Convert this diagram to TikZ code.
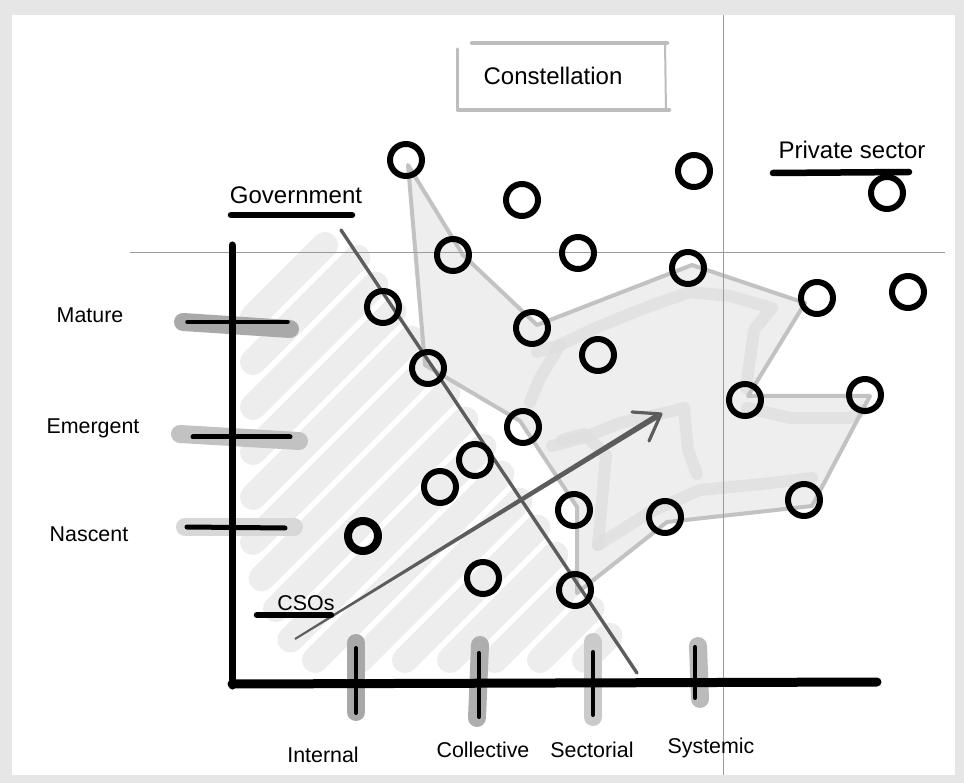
\documentclass[tikz,border=0pt]{standalone}
\usepackage{fontspec}
\setmainfont{Liberation Sans}
\usetikzlibrary{calc}
\definecolor{framegray}{HTML}{E6E6E6}
\definecolor{hatchgray}{HTML}{EDEDED}
\definecolor{polyfill}{HTML}{EEEEEE}
\definecolor{polyline}{HTML}{C2C2C2}
\definecolor{blotgray}{HTML}{DEDEDE}
\definecolor{guidegray}{HTML}{9A9A9A}
\definecolor{strokegray}{HTML}{5C5C5C}
\definecolor{boxgray}{HTML}{BDBDBD}
\begin{document}
\begin{tikzpicture}[x=1pt,y=-1pt,
  lbl/.style={font=\fontsize{21.4}{25}\selectfont, anchor=base, inner sep=0pt},
  biglbl/.style={font=\fontsize{24}{28}\selectfont, anchor=base, inner sep=0pt},
  hatchstroke/.style={line width=26pt, hatchgray, line cap=round},
  blot/.style={line width=12pt, blotgray, line cap=round, line join=round, opacity=0.75},
  hull/.style={line width=4pt, polyline, line cap=round, line join=round},
  guide/.style={line width=1pt, guidegray},
  underline/.style={line width=6.5pt, black, line cap=round},
  axis/.style={black, line cap=round},
  tickbar/.style={line width=18pt, line cap=round},
  tickmark/.style={line width=4pt, black, line cap=round},
  ring/.style={line width=6pt, black},
  diag/.style={line width=3.4pt, strokegray, line cap=round},
  boxside/.style={boxgray, line cap=round}]

% page and frame
\useasboundingbox (0,0) rectangle (964,783);
\fill[framegray] (0,0) rectangle (964,783);
\fill[white] (12,15) rectangle (955,775);

% hatching of the government field
\foreach \ax/\ay/\bx/\by in {
  253/317/325/245, 253/362/357.4/257.6, 253/407/375.4/284.6,
  253/452/393.4/311.6, 253/497/411.4/338.6, 253/542/429.4/365.6,
  261.6/578.4/447.4/392.6, 276/609/465.4/419.6, 290.4/639.6/483.4/446.6,
  315/660/501.4/473.6, 360/660/519.4/500.6, 405/660/537.4/527.6,
  450/660/555.4/554.6, 495/660/573.4/581.6, 540/660/591.4/608.6,
  585/660/609.4/635.6}
  \draw[hatchstroke] (\ax,\ay) -- (\bx,\by);

% constellation points
\coordinate (c1) at (406,160);
\coordinate (c2) at (522,200);
\coordinate (c3) at (694,171);
\coordinate (c4) at (887,193);
\coordinate (c5) at (453,255);
\coordinate (c6) at (578,253);
\coordinate (c7) at (688,268);
\coordinate (c8) at (383,307);
\coordinate (c9) at (532,328);
\coordinate (c10) at (817,298);
\coordinate (c11) at (908,292);
\coordinate (c12) at (598,355);
\coordinate (c13) at (428,368);
\coordinate (c14) at (745,400);
\coordinate (c15) at (865,395);
\coordinate (c16) at (523,427);
\coordinate (c17) at (475,460);
\coordinate (c18) at (440,487);
\coordinate (c19) at (363,536);
\coordinate (c20) at (574,510);
\coordinate (c21) at (665,517);
\coordinate (c22) at (804,500);
\coordinate (c23) at (483,578);
\coordinate (c24) at (575,590);

% hull vertices
\coordinate (h1) at (408,165);
\coordinate (h2) at (463,255);
\coordinate (h3) at (537,325);
\coordinate (h4) at (692,265);
\coordinate (h5) at (805,303);
\coordinate (h6) at (748,396);
\coordinate (h7) at (870,396);
\coordinate (h8) at (812,506);
\coordinate (h9) at (667,522);
\coordinate (h10) at (577,593);
\coordinate (h11) at (577,507);
\coordinate (h12) at (520,421);
\coordinate (h13) at (425,365);

% shaded constellation area
\fill[polyfill] (h1) -- (h2) -- (h3) -- (h4) -- (h5) -- (h6) -- (h7) -- (h8)
  -- (h9) -- (h10) -- (h11) -- (h12) -- (h13) -- cycle;

% marker traces inside the area
\draw[blot] (537,352) -- (560,345) -- (600,326) -- (650,306) -- (690,292)
  -- (730,296) -- (772,308) -- (754,330) -- (746,388);
\draw[blot] (560,345) -- (540,378) -- (530,402);
\draw[blot] (747,408) -- (790,418) -- (850,418) -- (862,410);
\draw[blot] (552,446) -- (585,437) -- (620,423) -- (660,414) -- (684,408)
  -- (688,450) -- (697,474);
\draw[blot] (562,440) -- (584,434) -- (606,455) -- (598,545);
\draw[blot] (598,545) -- (612,536) -- (650,512) -- (700,490) -- (762,484)
  -- (812,478);

% hull outline
\draw[hull] (h1) -- (h2) -- (h3) -- (h4) -- (h5) -- (h6) -- (h7) -- (h8)
  -- (h9) -- (h10) -- (h11) -- (h12) -- (h13) -- cycle;

% guide lines
\draw[guide] (130,253) -- (945,253);
\draw[guide] (723,15) -- (723,775);

% title box
\draw[boxside, line width=4.5pt] (472,43) -- (667,43);
\draw[boxside, line width=2pt] (665,43) -- (666,111);
\draw[boxside, line width=3pt] (457,49) -- (457,108);
\draw[boxside, line width=4.5pt] (458,110) -- (669,110);
\node[biglbl] (title) at (553,85) {Constellation};

% group labels
\node[biglbl] (priv) at (852,159) {Private sector};
\draw[underline] (773,173) -- (909,172);
\node[biglbl] (gov) at (296,204) {Government};
\draw[underline] (231,215) -- (352,215);

% level ticks on the vertical axis
\draw[tickbar, color={rgb,255:red,169;green,169;blue,169}] (183,322) -- (290,329);
\draw[tickbar, color={rgb,255:red,194;green,194;blue,194}] (180,434) -- (299,441);
\draw[tickbar, color={rgb,255:red,216;green,216;blue,216}] (185,527) -- (294,527);
\draw[tickmark, line width=3.5pt] (187,322) -- (288,322);
\draw[tickmark, line width=5pt] (193,437) -- (290,437);
\draw[tickmark, line width=5pt] (187,527) -- (285,528);

% scope ticks on the horizontal axis
\draw[tickbar, color={rgb,255:red,168;green,168;blue,168}] (356,643) -- (356,712);
\draw[tickbar, color={rgb,255:red,174;green,174;blue,174}] (480,645) -- (477,718);
\draw[tickbar, color={rgb,255:red,202;green,202;blue,202}] (593,642) -- (593,717);
\draw[tickbar, color={rgb,255:red,187;green,187;blue,187}] (698,646) -- (700,699);

% axes
\draw[axis, line width=7pt] (232,245) -- (232,686);
\draw[axis, line width=9pt] (232,684) -- (877,682);

\draw[tickmark] (356,648) -- (356,713);
\draw[tickmark] (479,653) -- (479,717);
\draw[tickmark] (593,652) -- (593,715);
\draw[tickmark] (695,647) -- (695,698);

% government boundary
\coordinate (gA) at (341,230);
\coordinate (gB) at (637,673);
\draw[diag] (gA) -- (gB);

% growth arrow
\coordinate (arrS) at (295,639);
\coordinate (arrE) at (658,415.5);
\coordinate (arrTip) at (661,414);
\fill[strokegray] ($(arrS)!1pt!90:(arrE)$) -- ($(arrE)!2.9pt!-90:(arrS)$)
  -- ($(arrE)!2.9pt!90:(arrS)$) -- ($(arrS)!1pt!-90:(arrE)$) -- cycle;
\draw[strokegray, line width=3.2pt, line cap=round, line join=round]
  (632,412) -- (arrTip) -- (649,441);

% points
\foreach \c in {c1,c2,c3,c4,c5,c6,c7,c8,c9,c10,c11,c12,c13,c14,c15,c16,c17,c18,c20,c21,c22,c23,c24}
  \draw[ring] (\c) circle[radius=16pt];
\draw[ring, line width=8pt] (c19) circle[radius=15pt];

% CSOs label
\node[lbl] (cso) at (306,610) {CSOs};
\draw[underline] (257,615) -- (331,615);

% level labels
\node[lbl] (mature) at (90,323) {Mature};
\node[lbl] (emergent) at (93,434) {Emergent};
\node[lbl] (nascent) at (89,541) {Nascent};

% scope labels
\node[lbl] (internal) at (323,762) {Internal};
\node[lbl] (collective) at (483,757) {Collective};
\node[lbl] (sectorial) at (592,757) {Sectorial};
\node[lbl] (systemic) at (711,753) {Systemic};
\end{tikzpicture}
\end{document}
